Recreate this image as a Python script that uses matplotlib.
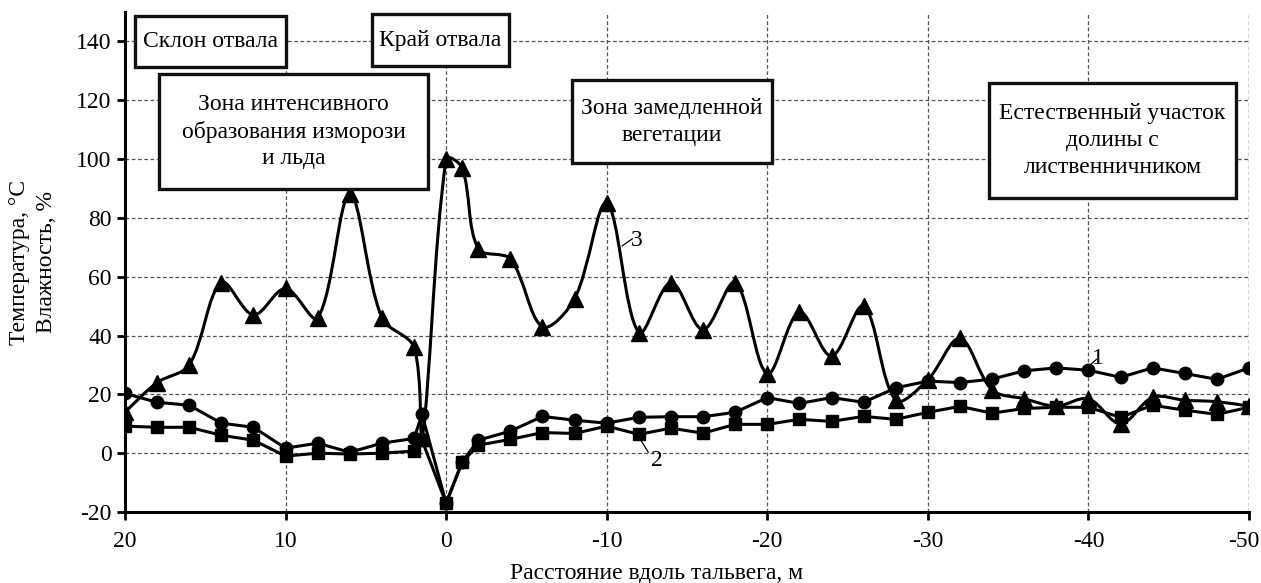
"""
Temperature / humidity profile along the thalweg, three series with zone boxes.
"""

import matplotlib.pyplot as plt
from matplotlib.patches import PathPatch, Rectangle
from matplotlib.path import Path
from matplotlib.transforms import ScaledTranslation

plt.rcParams["font.family"] = ["Liberation Serif", "DejaVu Serif"]

# Distance along the thalweg, m (positive = dump slope, negative = valley)
DIST = [20, 18, 16, 14, 12, 10, 8, 6, 4, 2, 1.5, 0, -1, -2,
        -4, -6, -8, -10, -12, -14, -16, -18, -20, -22, -24, -26,
        -28, -30, -32, -34, -36, -38, -40, -42, -44, -46, -48, -50]

# Curve 1 (circles)
SERIES_1 = [20.3, 17.3, 16.3, 10.2, 8.8, 1.7, 3.4, 0.3, 3.4, 5.0, 13.2, -17, -3, 4.4,
            7.5, 12.5, 11.2, 10.2, 12.2, 12.4, 12.4, 13.9, 18.9, 16.9, 18.9, 17.3,
            22.2, 24.5, 24.0, 25.2, 28.0, 29.0, 28.2, 25.8, 29.0, 27.1, 25.1, 29.0]

# Curve 2 (squares)
SERIES_2 = [9.2, 8.8, 8.8, 6.1, 4.4, -1.0, 0.0, -0.3, 0.0, 0.7, 4.4, -17, -3, 2.7,
            4.7, 7.0, 6.7, 9.2, 6.4, 8.5, 6.8, 9.8, 9.8, 11.5, 10.8, 12.5,
            11.5, 13.9, 15.9, 13.6, 15.2, 15.6, 15.6, 12.2, 16.3, 14.6, 13.2, 15.6]

# Curve 3 (triangles)
SERIES_3 = [14, 24, 30, 58, 47, 56, 46, 88, 46, 36, 5, 100, 97, 69.5,
            66, 43, 52.5, 85, 41, 58, 42, 58, 27, 48, 33, 50,
            18, 25, 39, 21.5, 18.5, 16, 18.5, 10, 19, 18, 17.5, 16]

X_TICKS = [20, 10, 0, -10, -20, -30, -40, -50]
Y_TICKS = [-20, 0, 20, 40, 60, 80, 100, 120, 140]

# Zone boxes: (x_left, x_right, y_bottom, y_top, text)
ZONE_BOXES = [
    (19.4, 10.0, 131.2, 148.5, "Склон отвала"),
    (4.6, -3.9, 131.5, 149.2, "Край отвала"),
    (17.9, 1.1, 89.8, 128.8, "Зона интенсивного\nобразования изморози\nи льда"),
    (-7.85, -20.3, 98.6, 126.8, "Зона замедленной\nвегетации"),
    (-33.8, -49.2, 86.8, 125.8, "Естественный участок\nдолины с\nлиственничником"),
]

# Curve number labels: (text, text_xy, leader_start, leader_end)
CURVE_LABELS = [
    ("3", (-11.9, 72.2), (-10.97, 70.5), (-11.6, 72.9)),
    ("2", (-13.15, -2.4), (-12.09, 4.7), (-12.59, 0.3)),
    ("1", (-40.6, 32.2), (-40.06, 29.8), (-40.5, 31.9)),
]

FS = 17
LW = 2.2


def smooth_path(ax, xs, ys):
    """Bezier path through all points, tangents scaled by chord length
    (spreadsheet-style smoothed line without big overshoots)."""
    fig_w, fig_h = ax.figure.get_size_inches() * ax.figure.dpi
    pos = ax.get_position()
    x0, x1 = ax.get_xlim()
    y0, y1 = ax.get_ylim()
    sx = abs(pos.width * fig_w / (x1 - x0))
    sy = abs(pos.height * fig_h / (y1 - y0))

    def dist(a, b):
        return (((a[0] - b[0]) * sx) ** 2 + ((a[1] - b[1]) * sy) ** 2) ** 0.5 + 1e-9

    pts = list(zip(xs, ys))
    verts = [pts[0]]
    codes = [Path.MOVETO]
    n = len(pts)
    for i in range(n - 1):
        p0 = pts[i - 1] if i > 0 else pts[i]
        p1 = pts[i]
        p2 = pts[i + 1]
        p3 = pts[i + 2] if i + 2 < n else pts[i + 1]
        d01, d12, d23 = dist(p0, p1), dist(p1, p2), dist(p2, p3)
        k1 = d12 / (d01 + d12) / 3.0
        k2 = d12 / (d12 + d23) / 3.0
        c1 = (p1[0] + (p2[0] - p0[0]) * k1, p1[1] + (p2[1] - p0[1]) * k1)
        c2 = (p2[0] - (p3[0] - p1[0]) * k2, p2[1] - (p3[1] - p1[1]) * k2)
        verts += [c1, c2, p2]
        codes += [Path.CURVE4] * 3
    return Path(verts, codes)


fig = plt.figure(figsize=(12.61, 5.83), dpi=100)
ax = fig.add_axes([0.0991, 0.1218, 0.8914, 0.8576])

ax.set_xlim(20, -50)
ax.set_ylim(-20, 150)
ax.set_xticks(X_TICKS)
ax.set_yticks(Y_TICKS)
ax.set_xticklabels([str(t) for t in X_TICKS])
ax.set_yticklabels([str(t) for t in Y_TICKS])

ax.grid(True, color="#555555", linestyle=(0, (3, 2)), linewidth=0.9, zorder=0)
ax.set_axisbelow(True)
# dashed line along the right edge (x = -50)
ax.axvline(-50, color="#555555", linestyle=(0, (3, 2)), linewidth=0.9, zorder=0)

for side in ("top", "right"):
    ax.spines[side].set_visible(False)
for side in ("left", "bottom"):
    ax.spines[side].set_linewidth(2.2)
ax.tick_params(axis="both", labelsize=FS, width=2.0, length=6, direction="out")
ax.tick_params(axis="x", pad=8)

# keep the last x tick label inside the figure
last = ax.get_xticklabels()[-1]
last.set_transform(last.get_transform() + ScaledTranslation(-5 / 100, 0, fig.dpi_scale_trans))

# Curves 1 and 2: straight segments
ax.plot(DIST, SERIES_1, color="black", linewidth=LW, marker="o",
        markersize=9, zorder=4)
ax.plot(DIST, SERIES_2, color="black", linewidth=LW, marker="s",
        markersize=8, zorder=4)

# Curve 3: smoothed line + triangle markers
ax.add_patch(PathPatch(smooth_path(ax, DIST, SERIES_3), facecolor="none",
                       edgecolor="black", linewidth=LW, zorder=3))
ax.plot(DIST, SERIES_3, linestyle="none", color="black", marker="^",
        markersize=11, zorder=4)

for x0, x1, y0, y1, text in ZONE_BOXES:
    ax.add_patch(Rectangle((x0, y0), x1 - x0, y1 - y0, facecolor="white",
                           edgecolor="#111111", linewidth=2.4, clip_on=False,
                           zorder=6))
    ax.text((x0 + x1) / 2, (y0 + y1) / 2, text, ha="center", va="center",
            fontsize=FS, linespacing=1.35, zorder=7)

for text, (tx, ty), (lx0, ly0), (lx1, ly1) in CURVE_LABELS:
    ax.plot([lx0, lx1], [ly0, ly1], color="black", linewidth=0.9, zorder=5)
    ax.text(tx, ty, text, ha="center", va="center", fontsize=FS, zorder=5)

ax.set_xlabel("Расстояние вдоль тальвега, м", fontsize=FS)
ax.xaxis.set_label_coords(0.473, -0.102)
fig.text(33 / 1261, 0.55, "Температура, °C\nВлажность, %", rotation=90,
         ha="center", va="center", fontsize=FS, linespacing=1.35)

fig.savefig("out.png", dpi=100)
